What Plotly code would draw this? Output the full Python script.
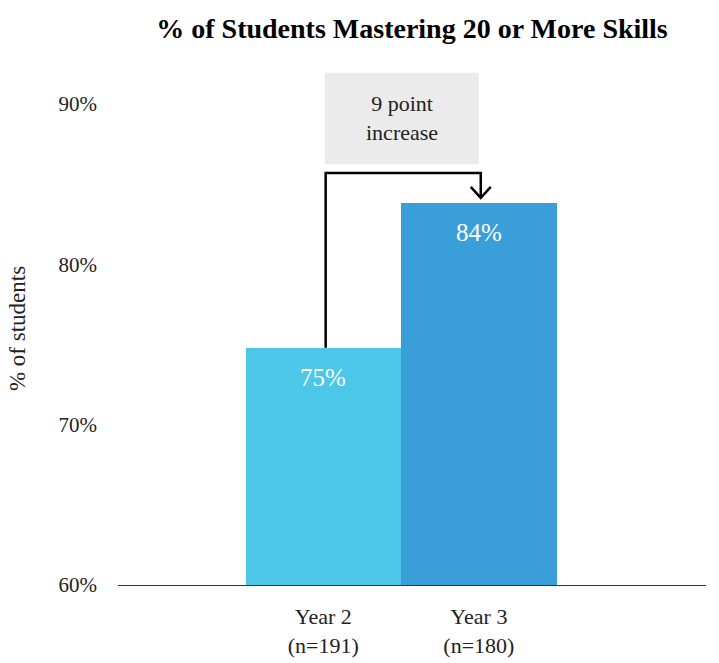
import plotly.graph_objects as go

# Data
categories = ["Year 2", "Year 3"]
sample_sizes = [191, 180]
pct_mastering = [74.8, 83.8]
bar_colors = ["#4DC7E8", "#3A9FD8"]
y_ticks = [60, 70, 80, 90]
callout_text = "9 point<br>increase"

FONT = "Liberation Serif, serif"
x_pos = list(range(len(categories)))
tick_text = [f"{c}<br>(n={n})" for c, n in zip(categories, sample_sizes)]

fig = go.Figure()
fig.add_trace(go.Bar(
    x=x_pos, y=pct_mastering, width=1.0,
    marker=dict(color=bar_colors, line=dict(width=0)),
    hoverinfo="skip",
))

# Value labels inside the top of each bar
for xi, v in zip(x_pos, pct_mastering):
    fig.add_annotation(x=xi, y=v, text=f"{v:.0f}%", showarrow=False,
                       yanchor="top", yshift=-14,
                       font=dict(family=FONT, size=25, color="white"))

# Callout box
fig.add_shape(type="rect", xref="x", yref="y", x0=0.01, x1=1.0, y0=86.25, y1=91.95,
              fillcolor="#EBEBEB", line=dict(width=0), layer="below")
fig.add_annotation(x=0.505, y=(86.25 + 91.95) / 2, text=callout_text, showarrow=False,
                   font=dict(family=FONT, size=22, color="#222222"))

# Connector from Year 2 bar to Year 3 bar
y_top = 85.7
tip = pct_mastering[1] + 0.35
x0c, x1c = x_pos[0] + 0.015, x_pos[1] + 0.012
fig.add_shape(type="path", xref="x", yref="y",
              path=f"M {x0c},{pct_mastering[0]} L {x0c},{y_top} L {x1c},{y_top} L {x1c},{tip}",
              line=dict(color="black", width=2.5))
dx = 10 / 155.5
dy = 11 / 16.03
fig.add_shape(type="path", xref="x", yref="y",
              path=f"M {x1c - dx},{tip + dy} L {x1c},{tip} L {x1c + dx},{tip + dy}",
              line=dict(color="black", width=2.5))

fig.update_layout(
    width=719, height=663,
    margin=dict(l=118, r=13, t=72, b=78),
    plot_bgcolor="white", paper_bgcolor="white",
    showlegend=False, bargap=0,
    title=dict(text="<b>% of Students Mastering 20 or More Skills</b>",
               x=0.5, xref="paper", xanchor="center",
               y=0.958, yref="container", yanchor="middle",
               font=dict(family=FONT, size=28, color="black")),
    xaxis=dict(range=[-1.32, 2.46], tickvals=x_pos, ticktext=tick_text,
               showgrid=False, zeroline=False, showline=True,
               linecolor="#333333", linewidth=1, ticks="",
               ticklabelstandoff=12, automargin=False,
               tickfont=dict(family=FONT, size=22, color="#222222"),
               fixedrange=True),
    yaxis=dict(range=[60, 92], tickvals=y_ticks,
               ticktext=[f"{t}%" for t in y_ticks],
               showgrid=False, zeroline=False, showline=False, ticks="",
               ticklabelstandoff=20, automargin=False,
               tickfont=dict(family=FONT, size=21, color="#222222"),
               title=dict(text="% of students", standoff=26,
                          font=dict(family=FONT, size=23, color="#222222")),
               fixedrange=True),
)

fig.write_html("out.html")
